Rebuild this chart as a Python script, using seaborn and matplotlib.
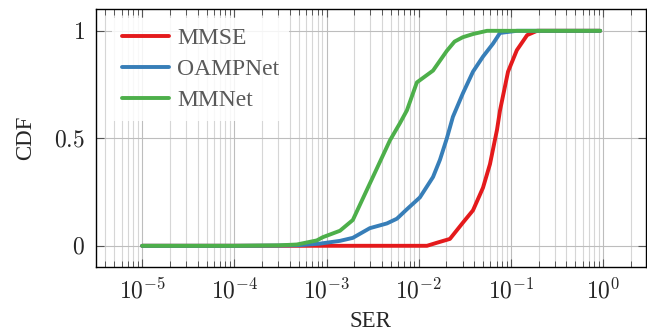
import matplotlib
matplotlib.use("Agg")
import matplotlib.pyplot as plt
import seaborn as sns
import pandas as pd
from matplotlib.ticker import LogLocator, NullFormatter

# SER / CDF points
mmse_ser = [1e-5, 1e-3, 1.23e-2, 1.57e-2, 2.18e-2, 3.02e-2, 3.88e-2, 4.98e-2, 5.93e-2,
            7.07e-2, 7.62e-2, 9.31e-2, 0.116, 0.150, 0.192, 0.93]
mmse_cdf = [0, 0, 0, 0.014, 0.032, 0.108, 0.165, 0.27, 0.38,
            0.54, 0.63, 0.81, 0.91, 0.98, 1.0, 1.0]

oamp_ser = [1e-5, 1e-4, 3e-4, 5.13e-4, 8.46e-4, 1.40e-3, 1.93e-3, 2.95e-3, 4.52e-3, 5.80e-3,
            7.45e-3, 1.03e-2, 1.43e-2, 1.70e-2, 2.02e-2, 2.35e-2, 3.02e-2, 3.88e-2,
            4.98e-2, 6.39e-2, 7.62e-2, 0.116, 0.93]
oamp_cdf = [0, 0, 0.001, 0.003, 0.01, 0.023, 0.037, 0.082, 0.104, 0.126,
            0.17, 0.225, 0.32, 0.40, 0.50, 0.60, 0.71, 0.81,
            0.88, 0.94, 0.99, 1.0, 1.0]

mmnet_ser = [1e-5, 1e-4, 3e-4, 4.76e-4, 7.85e-4, 9.12e-4, 1.40e-3, 1.93e-3, 2.74e-3, 3.52e-3,
             4.87e-3, 6.25e-3, 7.45e-3, 9.55e-3, 1.43e-2, 2.02e-2, 2.45e-2, 3.0e-2,
             3.88e-2, 5.5e-2, 0.93]
mmnet_cdf = [0, 0, 0.002, 0.006, 0.025, 0.04, 0.07, 0.12, 0.26, 0.36,
             0.49, 0.57, 0.63, 0.76, 0.815, 0.907, 0.95, 0.97,
             0.985, 1.0, 1.0]

methods = ["MMSE", "OAMPNet", "MMNet"]
colors = ["#e41a1c", "#377eb8", "#4daf4a"]

x_ticks = [1e-5, 1e-4, 1e-3, 1e-2, 1e-1, 1e0]
x_labels = [r"$10^{-5}$", r"$10^{-4}$", r"$10^{-3}$", r"$10^{-2}$", r"$10^{-1}$", r"$10^{0}$"]
y_ticks = [0, 0.5, 1]
y_labels = [r"$0$", r"$0.5$", r"$1$"]

df = pd.concat([
    pd.DataFrame({"SER": mmse_ser, "CDF": mmse_cdf, "method": methods[0]}),
    pd.DataFrame({"SER": oamp_ser, "CDF": oamp_cdf, "method": methods[1]}),
    pd.DataFrame({"SER": mmnet_ser, "CDF": mmnet_cdf, "method": methods[2]}),
])

sns.set_style("white")
plt.rcParams["font.family"] = ["Liberation Serif", "DejaVu Serif"]
plt.rcParams["mathtext.fontset"] = "cm"

fig = plt.figure(figsize=(6.47, 3.35), dpi=100)
ax = fig.add_axes([0.1484, 0.2021, 0.8493, 0.7701])

sns.lineplot(data=df, x="SER", y="CDF", hue="method", hue_order=methods,
             palette=colors, estimator=None, sort=False, linewidth=2.8, ax=ax)

ax.set_xscale("log")
ax.set_xlim(10 ** -5.5, 10 ** 0.46)
ax.set_ylim(-0.1, 1.1)

ax.set_xticks(x_ticks)
ax.set_xticklabels(x_labels)
ax.xaxis.set_minor_locator(LogLocator(base=10, subs=range(2, 10), numticks=20))
ax.xaxis.set_minor_formatter(NullFormatter())
ax.set_yticks(y_ticks)
ax.set_yticklabels(y_labels)

ax.grid(True, which="major", axis="both", color="#bdbdbd", linewidth=0.8)
ax.grid(True, which="minor", axis="x", color="#d6d6d6", linewidth=0.8)
ax.set_axisbelow(True)

ax.tick_params(which="major", direction="in", length=5.5, width=0.8, color="#555555",
               top=True, right=True, bottom=True, left=True, labelsize=17, pad=8)
ax.tick_params(which="minor", direction="in", length=4, width=0.7, color="#555555",
               top=True, bottom=True)
for s in ax.spines.values():
    s.set_color("black")
    s.set_linewidth(1.0)

ax.set_xlabel("SER", fontsize=16.5, labelpad=5)
ax.set_ylabel("CDF", fontsize=16.5, labelpad=13)

leg = ax.legend(loc="upper left", bbox_to_anchor=(0.03, 0.965), borderaxespad=0,
                fontsize=17, frameon=True, framealpha=0.85, edgecolor="none",
                fancybox=False, handlelength=2.0, handletextpad=0.35, labelspacing=0.4)
for t in leg.get_texts():
    t.set_color("#595959")
for h in leg.get_lines():
    h.set_linewidth(2.8)

fig.savefig("out.png", dpi=100)
